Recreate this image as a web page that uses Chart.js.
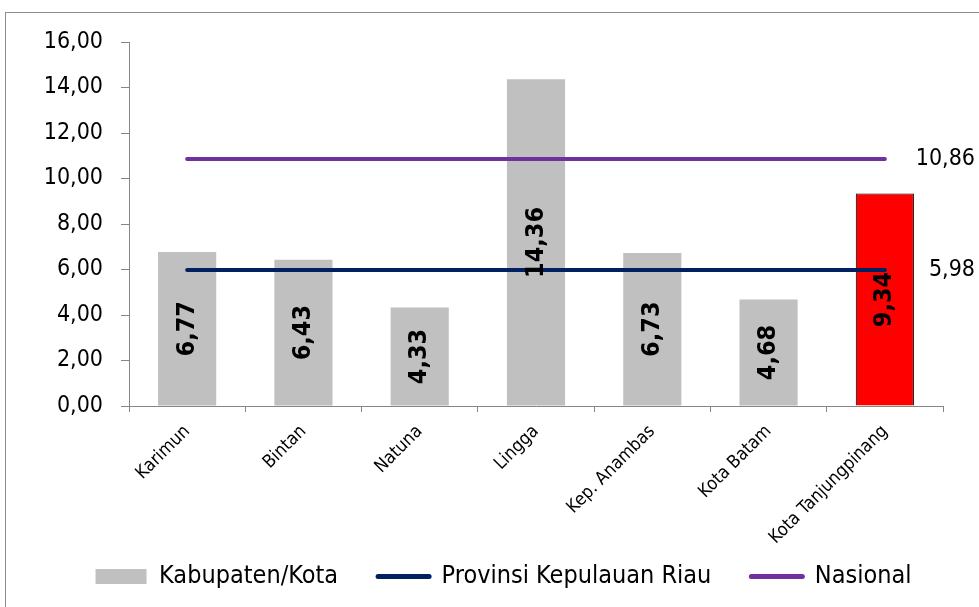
<!DOCTYPE html>
<html>
<head>
<meta charset="utf-8">
<script src="https://cdn.jsdelivr.net/npm/chart.js@4/dist/chart.umd.min.js"></script>
<style>
html,body{margin:0;padding:0;background:#fff;}
#wrap{position:relative;width:979px;height:607px;}
</style>
</head>
<body>
<div id="wrap"><canvas id="c" width="979" height="607"></canvas></div>
<script>
const categories = ['Karimun','Bintan','Natuna','Lingga','Kep. Anambas','Kota Batam','Kota Tanjungpinang'];
const kabupatenValues = [6.77, 6.43, 4.33, 14.36, 6.73, 4.68, 9.34];
const provinsiValues = [5.98, 5.98, 5.98, 5.98, 5.98, 5.98, 5.98];
const nasionalValues = [10.86, 10.86, 10.86, 10.86, 10.86, 10.86, 10.86];
const yTicks = [0, 2, 4, 6, 8, 10, 12, 14, 16];
const seriesNames = ['Kabupaten/Kota', 'Provinsi Kepulauan Riau', 'Nasional'];

const FONT = "'DejaVu Sans Condensed', 'DejaVu Sans', sans-serif";
const GRAY = '#C0C0C0', RED = '#FF0000', NAVY = '#002060', PURPLE = '#7030A0', AXIS = '#868686';
const fmt = v => v.toFixed(2).replace('.', ',');

const barColors = kabupatenValues.map((v, i) => i === categories.length - 1 ? RED : GRAY);
const barBorders = kabupatenValues.map((v, i) => i === categories.length - 1 ? '#000000' : GRAY);
const barBorderW = kabupatenValues.map((v, i) => i === categories.length - 1 ? 1 : 0);

const LEG_PAD = 40;
const LEG_DX = 32;

const framePlugin = {
  id: 'frame',
  afterInit(chart) {
    const lg = chart.legend;
    if (lg) {
      const origFit = lg.fit.bind(lg);
      lg.fit = function () { origFit(); this.height = 52; };
      const origDraw = lg.draw.bind(lg);
      lg.draw = function () {
        const ctx = this.ctx;
        ctx.save();
        ctx.translate(LEG_DX, 0);
        origDraw();
        ctx.restore();
      };
    }
  },
  afterLayout(chart) {
    const lg = chart.legend;
    if (lg) {
      lg.top = 577 - 15 - LEG_PAD + 2;
      lg.bottom = 607;
    }
  },
  beforeDraw(chart) {
    const ctx = chart.ctx;
    ctx.save();
    ctx.strokeStyle = '#8c8c8c';
    ctx.lineWidth = 1;
    ctx.strokeRect(5.5, 12.5, 1100, 800);
    ctx.restore();
  }
};

const labelPlugin = {
  id: 'vlabels',
  afterDatasetsDraw(chart) {
    const ctx = chart.ctx;
    const meta = chart.getDatasetMeta(0);
    ctx.save();
    ctx.fillStyle = '#000';
    ctx.font = "bold 25px " + FONT;
    ctx.textAlign = 'center';
    ctx.textBaseline = 'middle';
    meta.data.forEach((bar, i) => {
      const y = (bar.y + bar.base) / 2;
      ctx.save();
      ctx.translate(bar.x, y);
      ctx.rotate(-Math.PI / 2);
      ctx.fillText(fmt(kabupatenValues[i]), 0, 0);
      ctx.restore();
    });
    const ys = chart.scales.y;
    ctx.font = "23px " + FONT;
    ctx.textAlign = 'right';
    const nLast = nasionalValues[nasionalValues.length - 1];
    const pLast = provinsiValues[provinsiValues.length - 1];
    ctx.fillText(fmt(nLast), 975, ys.getPixelForValue(nLast));
    ctx.fillText(fmt(pLast), 975, ys.getPixelForValue(pLast));
    ctx.restore();
  }
};

new Chart(document.getElementById('c'), {
  type: 'bar',
  data: {
    labels: categories,
    datasets: [
      { type: 'bar', label: seriesNames[0], data: kabupatenValues, backgroundColor: barColors,
        borderColor: barBorders, borderWidth: barBorderW, barPercentage: 0.5, categoryPercentage: 1, order: 3 },
      { type: 'line', label: seriesNames[1], data: provinsiValues, borderColor: NAVY, backgroundColor: NAVY,
        borderWidth: 4, pointRadius: 0, borderCapStyle: 'round', order: 2 },
      { type: 'line', label: seriesNames[2], data: nasionalValues, borderColor: PURPLE, backgroundColor: PURPLE,
        borderWidth: 4, pointRadius: 0, borderCapStyle: 'round', order: 1 }
    ]
  },
  options: {
    responsive: false,
    animation: false,
    devicePixelRatio: 1,
    layout: { padding: { left: 0, right: 36, top: 42, bottom: 0 } },
    plugins: {
      tooltip: { enabled: false },
      legend: {
        position: 'bottom',
        labels: {
          usePointStyle: true,
          pointStyleWidth: 51,
          boxHeight: 15,
          padding: LEG_PAD,
          color: '#000',
          font: { family: FONT, size: 25 },
          generateLabels() {
            return [
              { text: seriesNames[0], fillStyle: GRAY, strokeStyle: GRAY, lineWidth: 0, pointStyle: 'rect', datasetIndex: 0, fontColor: '#000' },
              { text: seriesNames[1], fillStyle: NAVY, strokeStyle: NAVY, lineWidth: 5, lineCap: 'round', pointStyle: 'line', datasetIndex: 1, fontColor: '#000' },
              { text: seriesNames[2], fillStyle: PURPLE, strokeStyle: PURPLE, lineWidth: 5, lineCap: 'round', pointStyle: 'line', datasetIndex: 2, fontColor: '#000' }
            ];
          }
        }
      }
    },
    scales: {
      x: {
        grid: { display: true, drawOnChartArea: false, drawTicks: true, tickLength: 6, color: AXIS, offset: true },
        border: { display: true, color: AXIS, width: 1 },
        ticks: { color: '#000', font: { family: FONT, size: 18 }, maxRotation: 45, minRotation: 45, padding: 9, autoSkip: false },
        afterFit(s) { s.height = 149; }
      },
      y: {
        min: yTicks[0], max: yTicks[yTicks.length - 1],
        afterBuildTicks(s) { s.ticks = yTicks.map(v => ({ value: v })); },
        grid: { display: true, drawOnChartArea: false, drawTicks: true, tickLength: 8, color: AXIS },
        border: { display: true, color: AXIS, width: 1 },
        ticks: { color: '#000', font: { family: FONT, size: 23 }, padding: 18, callback: v => fmt(v) },
        afterFit(s) { s.width = 129; }
      }
    }
  },
  plugins: [framePlugin, labelPlugin]
});
</script>
</body>
</html>
